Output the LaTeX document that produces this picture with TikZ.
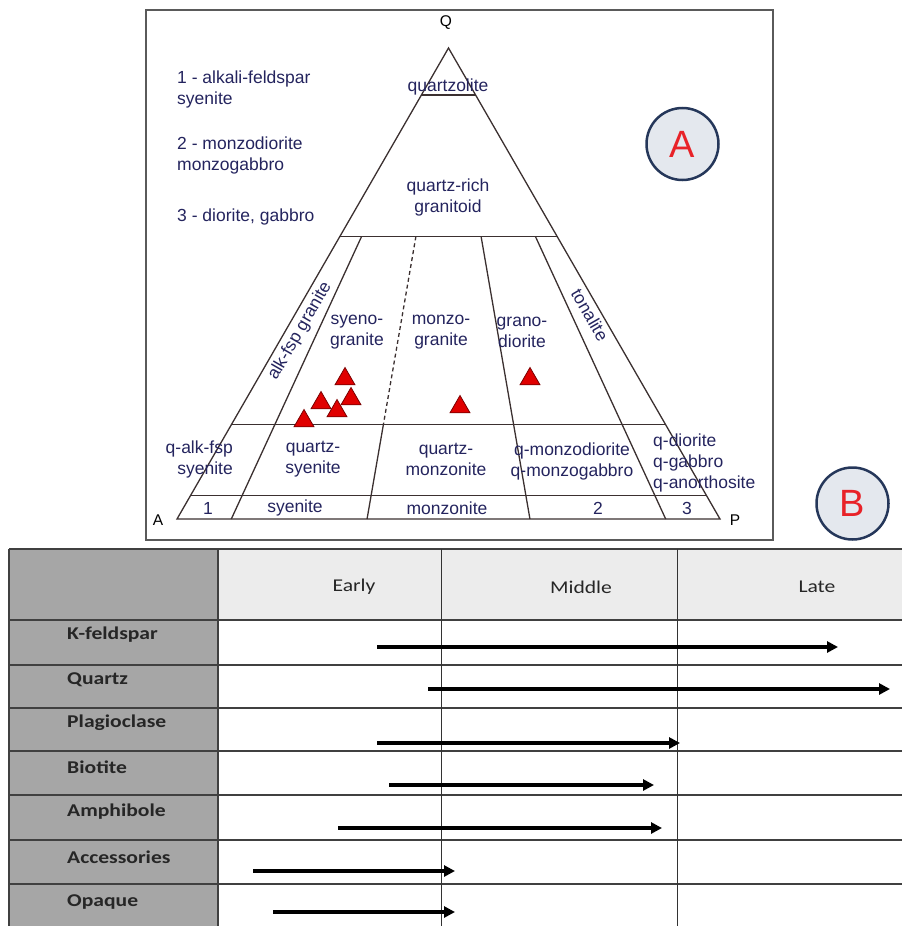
\documentclass[tikz,border=0pt]{standalone}
\usepackage{fontspec}
\setmainfont{Liberation Sans}
\newfontfamily\tabfont[FakeStretch=1.2]{Carlito}
\usetikzlibrary{calc,arrows.meta,shapes.geometric}
\definecolor{navy}{HTML}{24245E}
\definecolor{lineb}{HTML}{3B3030}
\definecolor{circfill}{HTML}{E4E8EE}
\definecolor{circline}{HTML}{25375A}
\definecolor{letred}{HTML}{E82228}
\definecolor{mkfill}{HTML}{E00000}
\definecolor{mkline}{HTML}{7A0000}
\definecolor{cellgray}{HTML}{A6A6A6}
\definecolor{headgray}{HTML}{ECECEC}
\definecolor{gridc}{HTML}{404040}
\definecolor{framec}{HTML}{5A5A5A}
\begin{document}
\begin{tikzpicture}[x=1pt,y=-1pt,
  lbl/.style={text=navy,font=\fontsize{17.5}{21}\selectfont,inner sep=0pt,align=center},
  corner/.style={text=black,font=\fontsize{15.5}{18}\selectfont,inner sep=0pt},
  tri/.style={draw=lineb,line width=1.3pt},
  mk/.style={regular polygon,regular polygon sides=3,minimum size=23pt,inner sep=0pt,fill=mkfill,draw=mkline,line width=0.8pt},
  badge/.style={circle,minimum size=72pt,inner sep=0pt,draw=circline,line width=2.5pt,fill=circfill,text=letred,font=\fontsize{38}{40}\selectfont},
  rowlbl/.style={anchor=west,inner sep=0pt,font=\tabfont\bfseries\fontsize{18}{20}\selectfont,text=black!85},
  headlbl/.style={inner sep=0pt,font=\tabfont\fontsize{18}{20}\selectfont,text=black!85},
  hline/.style={draw=gridc,line width=1.4pt},
  vthin/.style={draw=black!80,line width=0.9pt},
  seq/.style={line width=3.2pt,-{Triangle[length=11pt,width=11pt]}}
]
\useasboundingbox (0,0) rectangle (902,926);

% ---------- frame of part A ----------
\draw[framec,line width=1.5pt] (146,10) rectangle (773,540);

% ---------- QAP triangle ----------
\coordinate (A0) at (177,519);
\coordinate (P0) at (720,519);
\coordinate (Q0) at (448.5,48);
\draw[tri] (A0) -- (P0) -- (Q0) -- cycle;
% horizontal levels
\foreach \q/\n in {0.9/90,0.6/60,0.2/20,0.05/5}{
  \coordinate (L\n) at ($(A0)!\q!(Q0)$);
  \coordinate (R\n) at ($(P0)!\q!(Q0)$);
  \draw[tri] (L\n) -- (R\n);
}
% radial lines
\foreach \r/\n in {0.1/a,0.35/b,0.65/c,0.9/d}{
  \coordinate (\n0) at ($(A0)!\r!(P0)$);
  \coordinate (\n60) at ($(\n0)!0.6!(Q0)$);
  \coordinate (\n20) at ($(\n0)!0.2!(Q0)$);
}
\draw[tri] (a60) -- (a0);
\draw[tri,dash pattern=on 4pt off 3pt] (b60) -- (b20);
\draw[tri] (b20) -- (b0);
\draw[tri] (c60) -- (c0);
\draw[tri] (d60) -- (d0);

% corner labels
\node[corner] (lq) at (446,23) {Q};
\node[corner] (la) at (158,520) {A};
\node[corner] (lp) at (735,520) {P};

% legend
\node[lbl,align=left,anchor=west] (leg1) at (177,89) {1 - alkali-feldspar\\syenite};
\node[lbl,align=left,anchor=west] (leg2) at (177,155.5) {2 - monzodiorite\\monzogabbro};
\node[lbl,align=left,anchor=west] (leg3) at (177,217) {3 - diorite, gabbro};

% field labels
\node[lbl] (f1) at (448,87) {quartzolite};
\node[lbl] (f2) at (448,197) {quartz-rich\\granitoid};
\node[lbl,rotate=60] (f3) at (300,331) {alk-fsp granite};
\node[lbl] (f4) at (357,332) {syeno-\\granite};
\node[lbl] (f5) at (441,332) {monzo-\\granite};
\node[lbl] (f6) at (522,332) {grano-\\diorite};
\node[lbl,rotate=-60] (f7) at (590,315) {tonalite};
\node[lbl,align=right,anchor=east] (f8) at (233,459) {q-alk-fsp\\syenite};
\node[lbl] (f9) at (313,459) {quartz-\\syenite};
\node[lbl] (f10) at (446,459) {quartz-\\monzonite};
\node[lbl] (f11) at (572,461) {q-monzodiorite\\q-monzogabbro};
\node[lbl,align=left,anchor=west] (f12) at (653,463) {q-diorite\\q-gabbro\\q-anorthosite};
\node[lbl] (f13) at (208,508) {1};
\node[lbl] (f14) at (295,508) {syenite};
\node[lbl] (f15) at (447,508) {monzonite};
\node[lbl] (f16) at (598,508) {2};
\node[lbl] (f17) at (687,508) {3};

% sample markers
\node[mk] (m1) at (345,379) {};
\node[mk] (m2) at (321,403) {};
\node[mk] (m3) at (351,399) {};
\node[mk] (m4) at (337,411) {};
\node[mk] (m5) at (304,421) {};
\node[mk] (m6) at (460,407) {};
\node[mk] (m7) at (530,379) {};

% badges
\node[badge] (ba) at (682.5,144) {A};
\node[badge] (bb) at (852.5,503.5) {B};

% ---------- table (part B) ----------
\fill[cellgray] (9,549) rectangle (218,926);
\fill[headgray] (218,549) rectangle (902,620);
\foreach \y in {549,620,665,708,751,795,840,884}{
  \draw[hline] (9,\y) -- (902,\y);
}
\draw[hline] (9,549) -- (9,926);
\draw[hline] (218,549) -- (218,926);
\draw[vthin] (441,549) -- (441,926);
\draw[vthin] (677,549) -- (677,926);

\node[headlbl] (hE) at (354,587) {Early};
\node[headlbl] (hM) at (581,587) {Middle};
\node[headlbl] (hL) at (817,587) {Late};

\node[rowlbl] (r1) at (67,635) {K-feldspar};
\node[rowlbl] (r2) at (67,680) {Quartz};
\node[rowlbl] (r3) at (67,723) {Plagioclase};
\node[rowlbl] (r4) at (67,767) {Biotite};
\node[rowlbl] (r5) at (67,812) {Amphibole};
\node[rowlbl] (r6) at (67,857) {Accessories};
\node[rowlbl] (r7) at (67,902) {Opaque};

\coordinate (s1) at (377,647); \coordinate (e1) at (838,647);
\coordinate (s2) at (428,689); \coordinate (e2) at (890,689);
\coordinate (s3) at (377,743); \coordinate (e3) at (680,743);
\coordinate (s4) at (389,785); \coordinate (e4) at (654,785);
\coordinate (s5) at (338,828); \coordinate (e5) at (662,828);
\coordinate (s6) at (253,871); \coordinate (e6) at (455,871);
\coordinate (s7) at (273,912); \coordinate (e7) at (455,912);
\foreach \i in {1,...,7}{
  \draw[seq] (s\i) -- (e\i);
}
\end{tikzpicture}
\end{document}
